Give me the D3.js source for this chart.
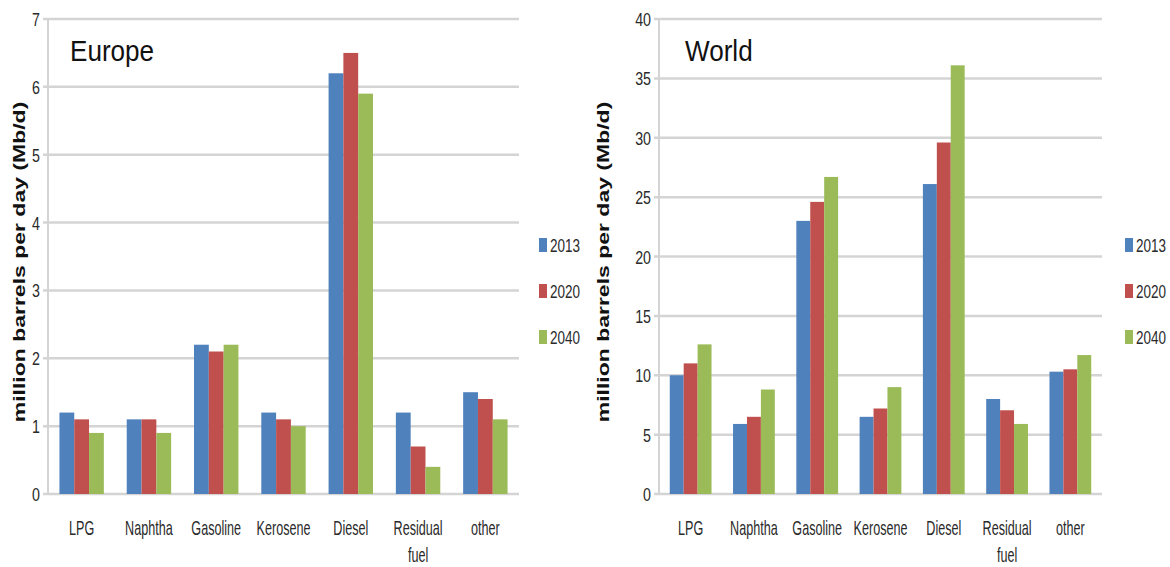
<!DOCTYPE html>
<html>
<head>
<meta charset="utf-8">
<script src="https://cdn.jsdelivr.net/npm/d3@7"></script>
<style>
body{margin:0;background:#fff;}
text{font-family:"Liberation Sans",Arial,sans-serif;}
</style>
</head>
<body>
<svg id="chart" width="1170" height="567"></svg>
<script>
// categories, series and values
var categories=["LPG","Naphtha","Gasoline","Kerosene","Diesel","Residual fuel","other"];
var years=["2013","2020","2040"];
var yearColors=["#4f81bd","#c0504d","#9bbb59"];
var europe2013=[1.2,1.1,2.2,1.2,6.2,1.2,1.5];
var europe2020=[1.1,1.1,2.1,1.1,6.5,0.7,1.4];
var europe2040=[0.9,0.9,2.2,1.0,5.9,0.4,1.1];
var world2013=[10.0,5.9,23.0,6.5,26.1,8.0,10.3];
var world2020=[11.0,6.5,24.6,7.2,29.6,7.05,10.5];
var world2040=[12.6,8.8,26.7,9.0,36.1,5.9,11.7];
var europeTicks=[0,1,2,3,4,5,6,7];
var worldTicks=[0,5,10,15,20,25,30,35,40];

var svg=d3.select("#chart");
var TOP=19,BOTTOM=494;
var GRID="#d4d4d4";

//原图横向被压扁，文字也跟着压窄
function squeezedText(g,str,x,y,size,sx,anchor){
	return g.append("text")
		.text(str)
		.attr("transform","translate("+x+","+y+") scale("+sx+",1)")
		.attr("text-anchor",anchor||"start")
		.style("font-size",size+"px")
		.style("fill","#2a2a2a");
}

function drawPanel(opt){
	var x=d3.scaleBand().domain(categories).range([opt.left,opt.right]).paddingInner(0.34).paddingOuter(0.17);
	var inner=d3.scaleBand().domain(years).range([0,x.bandwidth()]);
	var y=d3.scaleLinear().domain([0,opt.max]).range([BOTTOM,TOP]);
	var g=svg.append("g");

	//网格线
	g.selectAll("line.grid").data(opt.ticks).enter().append("line")
		.attr("class","grid")
		.attr("x1",opt.left-5).attr("x2",opt.right)
		.attr("y1",function(d){return y(d);}).attr("y2",function(d){return y(d);})
		.style("stroke",GRID).style("stroke-width","2.5px");
	g.append("line")
		.attr("x1",opt.left).attr("x2",opt.left)
		.attr("y1",TOP).attr("y2",BOTTOM)
		.style("stroke",GRID).style("stroke-width","2px");

	//刻度文字
	opt.ticks.forEach(function(t){
		squeezedText(g,t,opt.left-8,y(t)+7,19,0.75,"end");
	});

	//柱子
	var series=[opt.s2013,opt.s2020,opt.s2040];
	for(var s=0;s<3;s++){
		g.selectAll("rect.s"+s).data(series[s]).enter().append("rect")
			.attr("class","s"+s)
			.attr("x",function(d,i){return x(categories[i])+inner(years[s]);})
			.attr("width",inner.bandwidth())
			.attr("y",function(d){return y(d);})
			.attr("height",function(d){return BOTTOM-y(d);})
			.style("fill",yearColors[s]);
	}

	//类别文字
	categories.forEach(function(c){
		var cx=x(c)+x.bandwidth()/2;
		c.split(" ").forEach(function(w,k){
			squeezedText(g,w,cx,535+k*27,20,0.63,"middle");
		});
	});

	//纵轴标题
	g.append("text")
		.text("million barrels per day (Mb/d)")
		.attr("transform","translate("+opt.titleX+",262) rotate(-90) scale(1,0.68)")
		.attr("text-anchor","middle")
		.style("font-weight","bold").style("font-size","23px").style("fill","#111");

	//面板标题
	squeezedText(g,opt.name,opt.nameX,61,29,0.9).style("fill","#111");

	//图例
	var legendY=[245,291,337];
	for(var s=0;s<3;s++){
		g.append("rect")
			.attr("x",opt.legendX).attr("y",legendY[s]-7)
			.attr("width",8).attr("height",14)
			.style("fill",yearColors[s]);
		squeezedText(g,years[s],opt.legendX+11,legendY[s]+7,18,0.75);
	}
}

drawPanel({name:"Europe",left:48,right:519,max:7,ticks:europeTicks,
	s2013:europe2013,s2020:europe2020,s2040:europe2040,
	titleX:25,nameX:70,legendX:539});
drawPanel({name:"World",left:659,right:1102,max:40,ticks:worldTicks,
	s2013:world2013,s2020:world2020,s2040:world2040,
	titleX:609,nameX:685,legendX:1125});
</script>
</body>
</html>
